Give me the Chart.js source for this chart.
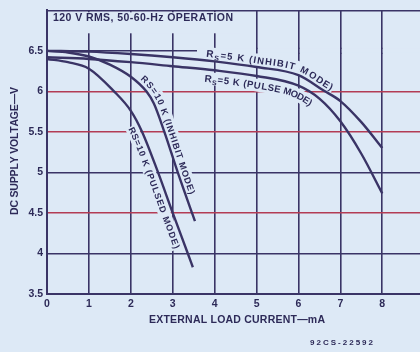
<!DOCTYPE html>
<html><head><meta charset="utf-8">
<script src="https://cdn.jsdelivr.net/npm/chart.js@4.4.1/dist/chart.umd.min.js"></script>
<style>
html,body{margin:0;padding:0;background:#dde9f6;overflow:hidden;}
#wrap{width:420px;height:352px;position:relative;}
</style></head><body>
<div id="wrap"><canvas id="c" width="420" height="352"></canvas></div>
<script>
// ---- data ----
const xTickValues = [0,1,2,3,4,5,6,7,8];
const xTickLabels = ['0','1','2','3','4','5','6','7','8'];
const yTickValues = [3.5,4,4.5,5,5.5,6,6.5,7];
const yTickLabels = ['3.5','4','4.5','5','5.5','6','6.5',''];
const redGridValues = [4.5,5.5,6];

const rs5kInhibitX = [0,1,2,3,4,5,6,6.6,7,7.5,8];
const rs5kInhibitY = [6.5,6.49,6.46,6.42,6.37,6.3,6.2,6.01,5.88,5.62,5.3];
const rs5kPulseX = [0,1,2,3,4,5,6,6.5,7,7.5,8];
const rs5kPulseY = [6.42,6.4,6.36,6.31,6.26,6.19,6.07,5.91,5.63,5.23,4.74];
const rs10kInhibitX = [0,0.5,1,1.5,2,2.37,2.55,2.8,3.12,3.46,3.53];
const rs10kInhibitY = [6.5,6.48,6.43,6.33,6.18,6.0,5.85,5.5,5.0,4.5,4.4];
const rs10kPulsedX = [0,0.5,1,1.6,2,2.27,2.65,3.0,3.36,3.48];
const rs10kPulsedY = [6.4,6.36,6.28,6.0,5.76,5.5,5.0,4.5,4.0,3.83];

const chartTitle = '120 V RMS, 50-60-Hz OPERATION';
const xTitle = 'EXTERNAL LOAD CURRENT\u2014mA';
const yTitle = 'DC SUPPLY VOLTAGE\u2014V';
const figureCode = '92CS-22592';

const series = [
  {name:'RS=5 K (INHIBIT MODE)', x:rs5kInhibitX, y:rs5kInhibitY},
  {name:'RS=5 K (PULSE MODE)', x:rs5kPulseX, y:rs5kPulseY},
  {name:'RS=10 K (INHIBIT MODE)', x:rs10kInhibitX, y:rs10kInhibitY},
  {name:'RS=10 K (PULSED MODE)', x:rs10kPulsedX, y:rs10kPulsedY}
];

// ---- style ----
const NAVY = '#3a3466';
const RED = '#b33c55';
const BG = '#dde9f6';
const TXT = '#2d2a58';
const FONT = '"Liberation Sans", Arial, sans-serif';
const GRID_W = 1.6;

// label placement along curves (style/layout, not data)
const curveLabels = [
  {ds:0, parts:[['R',10,0],['S',7,2.5],['=5 K (INHIBIT MODE)',9.5,0]], startX:3.77, offset:7, len:130},
  {ds:1, parts:[['R',10,0],['S',7,2.5],['=5 K (PULSE MODE)',9.5,0]], startX:3.77, offset:-9, len:116},
  {ds:2, parts:[['RS=10 K (INHIBIT MODE)',9,0]], startX:2.16, offset:7, len:125},
  {ds:3, parts:[['RS=10 K (PULSED MODE)',9,0]], startX:2.18, offset:-8, len:130}
];

function tangents(xs, ys){
  const n=xs.length, d=[], m=new Array(n);
  for(let i=0;i<n-1;i++) d.push((ys[i+1]-ys[i])/(xs[i+1]-xs[i]));
  for(let i=0;i<n;i++){
    if(i===0) m[i]=d[0]; else if(i===n-1) m[i]=d[n-2];
    else m[i]=(Math.sign(d[i-1])!==Math.sign(d[i]))?0:(d[i-1]+d[i])/2;
  }
  for(let i=0;i<n-1;i++){
    if(Math.abs(d[i])<1e-9){m[i]=m[i+1]=0;continue;}
    const a=m[i]/d[i], b=m[i+1]/d[i], s=a*a+b*b;
    if(s<=9) continue;
    const t=3/Math.sqrt(s); m[i]=a*t*d[i]; m[i+1]=b*t*d[i];
  }
  return m;
}
function curvePath(chart, xs, ys){
  const sx=chart.scales.x, sy=chart.scales.y, m=tangents(xs,ys), pts=[];
  for(let i=0;i<xs.length-1;i++){
    const h=xs[i+1]-xs[i];
    for(let k=(i?1:0);k<=60;k++){
      const t=k/60,t2=t*t,t3=t2*t;
      const y=(2*t3-3*t2+1)*ys[i]+(t3-2*t2+t)*h*m[i]+(-2*t3+3*t2)*ys[i+1]+(t3-t2)*h*m[i+1];
      const x=xs[i]+t*h;
      pts.push({x:sx.getPixelForValue(x), y:sy.getPixelForValue(y), dx:x});
    }
  }
  let s=0; pts[0].s=0;
  for(let i=1;i<pts.length;i++){ s+=Math.hypot(pts[i].x-pts[i-1].x, pts[i].y-pts[i-1].y); pts[i].s=s; }
  return pts;
}
function at(pts, s){
  let i=1; while(i<pts.length-1 && pts[i].s<s) i++;
  const a=pts[i-1], b=pts[i], L=(b.s-a.s)||1, f=(s-a.s)/L;
  return {x:a.x+(b.x-a.x)*f, y:a.y+(b.y-a.y)*f, ang:Math.atan2(b.y-a.y,b.x-a.x)};
}
function drawCurveLabel(ctx, chart, L, pass){
  const sd=series[L.ds]; const pts=curvePath(chart, sd.x, sd.y);
  const st=pts.find(p=>p.dx>=L.startX); let s=st?st.s:0;
  const chars=[];
  L.parts.forEach(([t,size,dy])=>{ ctx.font=`bold ${size}px ${FONT}`; for(const c of t){ chars.push({c,size,dy,w:ctx.measureText(c).width}); } });
  const nat=chars.reduce((a,c)=>a+c.w,0);
  const sp=(L.len-nat)/(chars.length-1);
  const mainSize=L.parts[L.parts.length-1][1];
  for(const ch of chars){
    const p=at(pts, s+ch.w/2);
    const ux=Math.sin(p.ang), uy=-Math.cos(p.ang);
    ctx.save();
    ctx.translate(p.x+ux*L.offset, p.y+uy*L.offset);
    ctx.rotate(p.ang);
    if(pass==='mask'){
      const cap=0.72*mainSize;
      ctx.fillStyle=BG;
      ctx.fillRect(-ch.w/2-sp/2-0.5, -cap/2-3, ch.w+sp+1, cap+6);
    } else {
      ctx.font=`bold ${ch.size}px ${FONT}`;
      ctx.fillStyle=TXT; ctx.textBaseline='alphabetic'; ctx.textAlign='left';
      ctx.fillText(ch.c, -ch.w/2, 0.36*mainSize+ch.dy);
    }
    ctx.restore();
    s+=ch.w+sp;
  }
}
function spacedText(ctx, text, cx, cy, width, size, rot){
  ctx.save(); ctx.translate(cx,cy); ctx.rotate(rot||0);
  ctx.font=`bold ${size}px ${FONT}`;
  const cs=[...text]; const ws=cs.map(c=>ctx.measureText(c).width);
  const nat=ws.reduce((a,b)=>a+b,0); const sp=(width-nat)/(cs.length-1);
  let x=-width/2; ctx.textBaseline='middle'; ctx.textAlign='left'; ctx.fillStyle=TXT;
  cs.forEach((c,i)=>{ ctx.fillText(c,x,0); x+=ws[i]+sp; });
  ctx.restore();
}
function alignPx(px, w){ const h=w/2; return Math.round(px-h)+h; }

const decor = {
  id:'decor',
  beforeDraw(chart){
    const ctx=chart.ctx; ctx.save(); ctx.fillStyle=BG; ctx.fillRect(0,0,chart.width,chart.height); ctx.restore();
  },
  beforeDatasetsDraw(chart){
    const ctx=chart.ctx, a=chart.chartArea, sx=chart.scales.x;
    ctx.save();
    ctx.fillStyle=BG;
    ctx.fillRect(a.left+2, a.top+2, 191, 21);
    // the 6.5 rule stops short of the inhibit-mode label
    const y65=chart.scales.y.getPixelForValue(6.5);
    ctx.fillRect(197, y65-2, a.right-197, 4);
    ctx.strokeStyle=NAVY; ctx.lineWidth=GRID_W;
    xTickValues.filter(v=>sx.getPixelForValue(v)>200).forEach(v=>{
      const px=alignPx(sx.getPixelForValue(v), GRID_W);
      ctx.beginPath(); ctx.moveTo(px, y65-3); ctx.lineTo(px, y65+3); ctx.stroke();
    });
    curveLabels.forEach(L=>drawCurveLabel(ctx, chart, L, 'mask'));
    curveLabels.forEach(L=>drawCurveLabel(ctx, chart, L, 'text'));
    spacedText(ctx, chartTitle, 143, 18.5, 180, 10.5, 0);
    ctx.restore();
  },
  afterDraw(chart){
    const ctx=chart.ctx;
    spacedText(ctx, xTitle, 237, 320.5, 176, 10.5, 0);
    spacedText(ctx, yTitle, 15, 151, 128, 10.5, -Math.PI/2);
    spacedText(ctx, figureCode, 341.5, 343, 63, 8, 0);
  }
};

new Chart(document.getElementById('c'), {
  type:'line',
  data:{datasets: series.map(s=>({
    label:s.name,
    data:s.x.map((x,i)=>({x, y:s.y[i]})),
    borderColor:NAVY, borderWidth:2.4, pointRadius:0,
    cubicInterpolationMode:'monotone', fill:false
  }))},
  options:{
    responsive:false, animation:false, events:[], devicePixelRatio:1,
    layout:{padding:{top:7,left:0,right:0,bottom:0}},
    plugins:{legend:{display:false}, tooltip:{enabled:false}, title:{display:false}},
    scales:{
      x:{type:'linear', min:0, max:8.9,
        afterBuildTicks:s=>{ s.ticks=xTickValues.map(v=>({value:v})); },
        afterFit:s=>{ s.height=58; },
        grid:{color:NAVY, lineWidth:GRID_W, drawTicks:false},
        border:{display:true, color:NAVY, width:2},
        ticks:{color:TXT, font:{family:FONT, size:10.5, weight:'bold'}, padding:4, maxRotation:0, autoSkip:false,
          callback:(v,i)=>xTickLabels[i]}
      },
      y:{type:'linear', min:3.5, max:7,
        afterBuildTicks:s=>{ s.ticks=yTickValues.map(v=>({value:v})); },
        afterFit:s=>{ s.width=47; },
        grid:{color:c=>redGridValues.includes(c.tick && c.tick.value)?RED:NAVY, lineWidth:GRID_W, drawTicks:false},
        border:{display:true, color:NAVY, width:2},
        ticks:{color:TXT, font:{family:FONT, size:10.5, weight:'bold'}, padding:4, autoSkip:false,
          callback:(v,i)=>yTickLabels[i]}
      }
    }
  },
  plugins:[decor]
});
</script>
</body></html>
